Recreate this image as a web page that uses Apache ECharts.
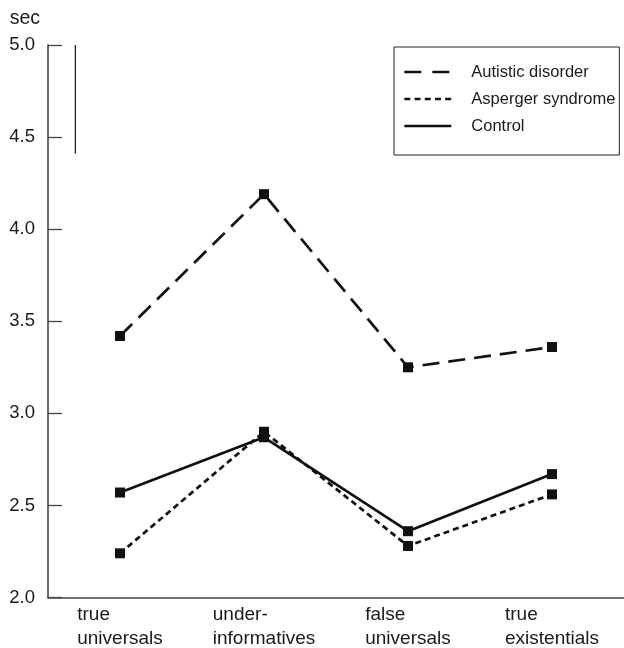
<!DOCTYPE html>
<html>
<head>
<meta charset="utf-8">
<script src="https://cdn.jsdelivr.net/npm/echarts@6/dist/echarts.min.js"></script>
<style>
  html, body { margin: 0; padding: 0; background: #fff; }
  #chart { width: 624px; height: 648px; }
</style>
</head>
<body>
<div id="chart"></div>
<script>
// ---- data ----
const categories = [
  ['true', 'universals'],
  ['under-', 'informatives'],
  ['false', 'universals'],
  ['true', 'existentials']
];
const seriesNames = ['Autistic disorder', 'Asperger syndrome', 'Control'];
const autisticValues = [3.42, 4.19, 3.25, 3.36];
const aspergerValues = [2.24, 2.90, 2.28, 2.56];
const controlValues = [2.57, 2.87, 2.36, 2.67];
const yTicks = [2.0, 2.5, 3.0, 3.5, 4.0, 4.5, 5.0];
const scaleBar = [5.0, 4.41]; // vertical reference bar (top, bottom) in sec
const yUnit = 'sec';

const ink = '#111';
const font = 'Liberation Sans, Arial, Helvetica, sans-serif';

const chart = echarts.init(document.getElementById('chart'), null, { renderer: 'canvas' });

function mkSeries(name, data, dash) {
  return {
    name: name,
    type: 'line',
    data: data,
    symbol: 'rect',
    symbolSize: 10,
    itemStyle: { color: ink },
    lineStyle: { color: ink, width: 2.7, type: dash },
    z: 3,
    animation: false
  };
}

const option = {
  animation: false,
  backgroundColor: '#fff',
  grid: { left: 48, right: -5.3, top: 45, bottom: 49, containLabel: false },
  xAxis: {
    type: 'category',
    data: categories.map(c => c.join('\n')),
    boundaryGap: true,
    axisLine: { lineStyle: { color: '#444', width: 1.6 } },
    axisTick: { inside: true, length: 13, alignWithLabel: false, lineStyle: { color: '#444', width: 1.3 } },
    axisLabel: {
      margin: 5,
      formatter: function (v) {
        return v.split('\n').map(s => '{a|' + s + '}').join('\n');
      },
      rich: {
        a: { fontFamily: font, fontSize: 19, color: '#1a1a1a', lineHeight: 24, align: 'left' }
      },
      interval: 0
    },
    splitLine: { show: false }
  },
  yAxis: {
    type: 'value',
    min: yTicks[0],
    max: yTicks[yTicks.length - 1],
    interval: 0.5,
    name: yUnit,
    nameLocation: 'end',
    nameGap: 16,
    nameTextStyle: { fontFamily: font, fontSize: 19.5, color: '#1a1a1a', align: 'right', padding: [0, 8, 0, 0] },
    axisLine: { show: true, lineStyle: { color: '#444', width: 1.6 } },
    axisTick: { show: true, inside: true, length: 14, lineStyle: { color: '#444', width: 1.3 } },
    axisLabel: {
      margin: 13,
      fontFamily: font,
      fontSize: 18.5,
      color: '#1a1a1a',
      formatter: v => v.toFixed(1)
    },
    splitLine: { show: false }
  },
  legend: {
    orient: 'vertical',
    left: 394,
    top: 47,
    selectedMode: false,
    borderColor: '#222',
    borderWidth: 1,
    padding: [15, 4, 19, 9],
    itemWidth: 47,
    itemHeight: 14,
    itemGap: 7,
    textStyle: { fontFamily: font, fontSize: 16.5, color: '#1a1a1a', lineHeight: 20, padding: [0, 0, 0, 15] },
    itemStyle: { opacity: 0 },
    data: [
      { name: seriesNames[0], lineStyle: { color: ink, width: 2.7, type: [17, 11] }, itemStyle: { opacity: 0 } },
      { name: seriesNames[1], lineStyle: { color: ink, width: 2.7, type: [6, 4.2] }, itemStyle: { opacity: 0 } },
      { name: seriesNames[2], lineStyle: { color: ink, width: 2.7, type: 'solid' }, itemStyle: { opacity: 0 } }
    ]
  },
  series: [
    mkSeries(seriesNames[0], autisticValues, [17, 9]),
    mkSeries(seriesNames[1], aspergerValues, [6, 4]),
    mkSeries(seriesNames[2], controlValues, 'solid')
  ]
};

chart.setOption(option);

// vertical reference bar placed through the axis scales
const gridRect = chart.getModel().getComponent('grid').coordinateSystem.getRect();
const band = gridRect.width / categories.length;
const barX = gridRect.x + band * 0.19;
const yTop = chart.convertToPixel({ yAxisIndex: 0 }, scaleBar[0]);
const yBot = chart.convertToPixel({ yAxisIndex: 0 }, scaleBar[1]);
chart.setOption({
  graphic: [{
    type: 'line',
    shape: { x1: barX, y1: yTop, x2: barX, y2: yBot },
    style: { stroke: '#222', lineWidth: 1.3 },
    z: 5
  }]
});
</script>
</body>
</html>
